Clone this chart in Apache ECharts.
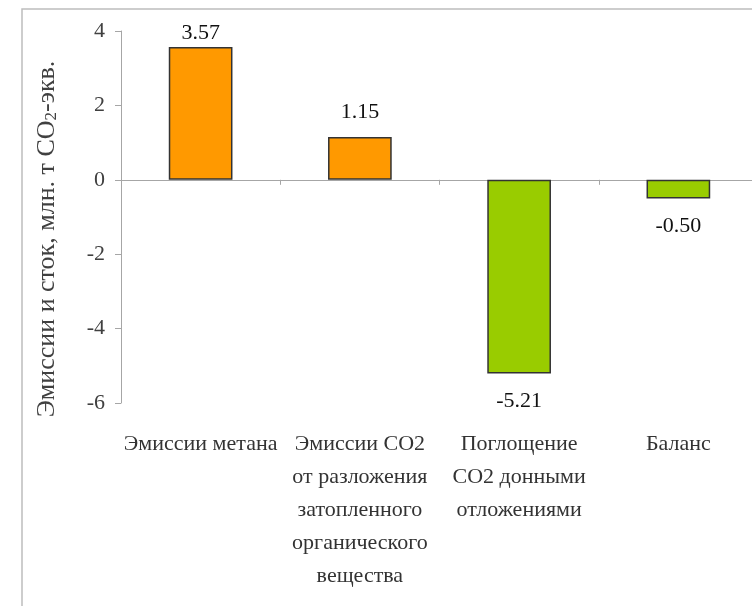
<!DOCTYPE html>
<html>
<head>
<meta charset="utf-8">
<script src="https://cdn.jsdelivr.net/npm/echarts@6/dist/echarts.min.js"></script>
<style>
  html, body { margin: 0; padding: 0; background: #fff; overflow: hidden; }
  /* the plot area runs a few pixels past the right edge of the page */
  #chart { width: 758px; height: 606px; }
</style>
</head>
<body>
<div id="chart"></div>
<script>
// Greenhouse gas emissions and sinks of the reservoir, mln t CO2-eq.
const categories = [
  'Эмиссии метана',
  'Эмиссии CO2\nот разложения\nзатопленного\nорганического\nвещества',
  'Поглощение\nCO2 донными\nотложениями',
  'Баланс'
];
const values = [3.57, 1.15, -5.21, -0.50];
const barColors = ['#FF9900', '#FF9900', '#99CC00', '#99CC00'];
const yTicks = { min: -6, max: 4, interval: 2 };

const serif = '"Liberation Serif", "Times New Roman", "DejaVu Serif", serif';

const chart = echarts.init(document.getElementById('chart'), null, { renderer: 'canvas' });

const barData = values.map((v, i) => ({
  value: v,
  itemStyle: { color: barColors[i] },
  label: {
    position: v < 0 ? 'bottom' : 'top',
    distance: v < 0 ? 17 : (i === 0 ? 3 : 14)
  }
}));

chart.setOption({
  animation: false,
  backgroundColor: '#ffffff',
  grid: { left: 121, top: 31, right: 0, bottom: 203, containLabel: false },
  graphic: [{
    type: 'rect',
    shape: { x: 22, y: 9, width: 800, height: 700 },
    style: { fill: 'none', stroke: '#bdbdbd', lineWidth: 1.5 },
    silent: true,
    z: -10
  }],
  xAxis: [{
    type: 'category',
    data: categories,
    position: 'bottom',
    axisLine: { show: false, onZero: false },
    axisTick: { show: false },
    axisLabel: {
      interval: 0,
      margin: 25,
      fontFamily: serif,
      fontSize: 22,
      lineHeight: 33,
      color: '#333333'
    },
    splitLine: { show: false }
  }, {
    type: 'category',
    data: categories,
    position: 'bottom',
    axisLine: { show: true, onZero: true, lineStyle: { color: '#a6a6a6', width: 1 } },
    axisTick: { show: true, length: 5, lineStyle: { color: '#a6a6a6' } },
    axisLabel: { show: false },
    splitLine: { show: false }
  }],
  yAxis: {
    type: 'value',
    min: yTicks.min,
    max: yTicks.max,
    interval: yTicks.interval,
    name: '{a|Эмиссии и сток, млн. т CO}{s|2}{a|-экв.}',
    nameLocation: 'middle',
    nameGap: 61,
    nameTextStyle: {
      padding: [0, 44, 0, 0],
      rich: {
        a: { fontFamily: serif, fontSize: 26, color: '#404040', lineHeight: 27, verticalAlign: 'bottom' },
        s: { fontFamily: serif, fontSize: 17, color: '#404040', lineHeight: 27, verticalAlign: 'bottom' }
      }
    },
    axisLine: { show: true, lineStyle: { color: '#a6a6a6', width: 1 } },
    axisTick: { show: true, inside: false, length: 6, lineStyle: { color: '#a6a6a6' } },
    axisLabel: {
      margin: 16,
      fontFamily: serif,
      fontSize: 22,
      color: '#404040'
    },
    splitLine: { show: false }
  },
  series: [{
    type: 'bar',
    xAxisIndex: 0,
    data: barData,
    barWidth: '40%',
    itemStyle: { borderColor: '#333333', borderWidth: 1.5 },
    label: {
      show: true,
      fontFamily: serif,
      fontSize: 22,
      color: '#111111',
      formatter: p => p.value.toFixed(2)
    }
  }]
});
</script>
</body>
</html>
